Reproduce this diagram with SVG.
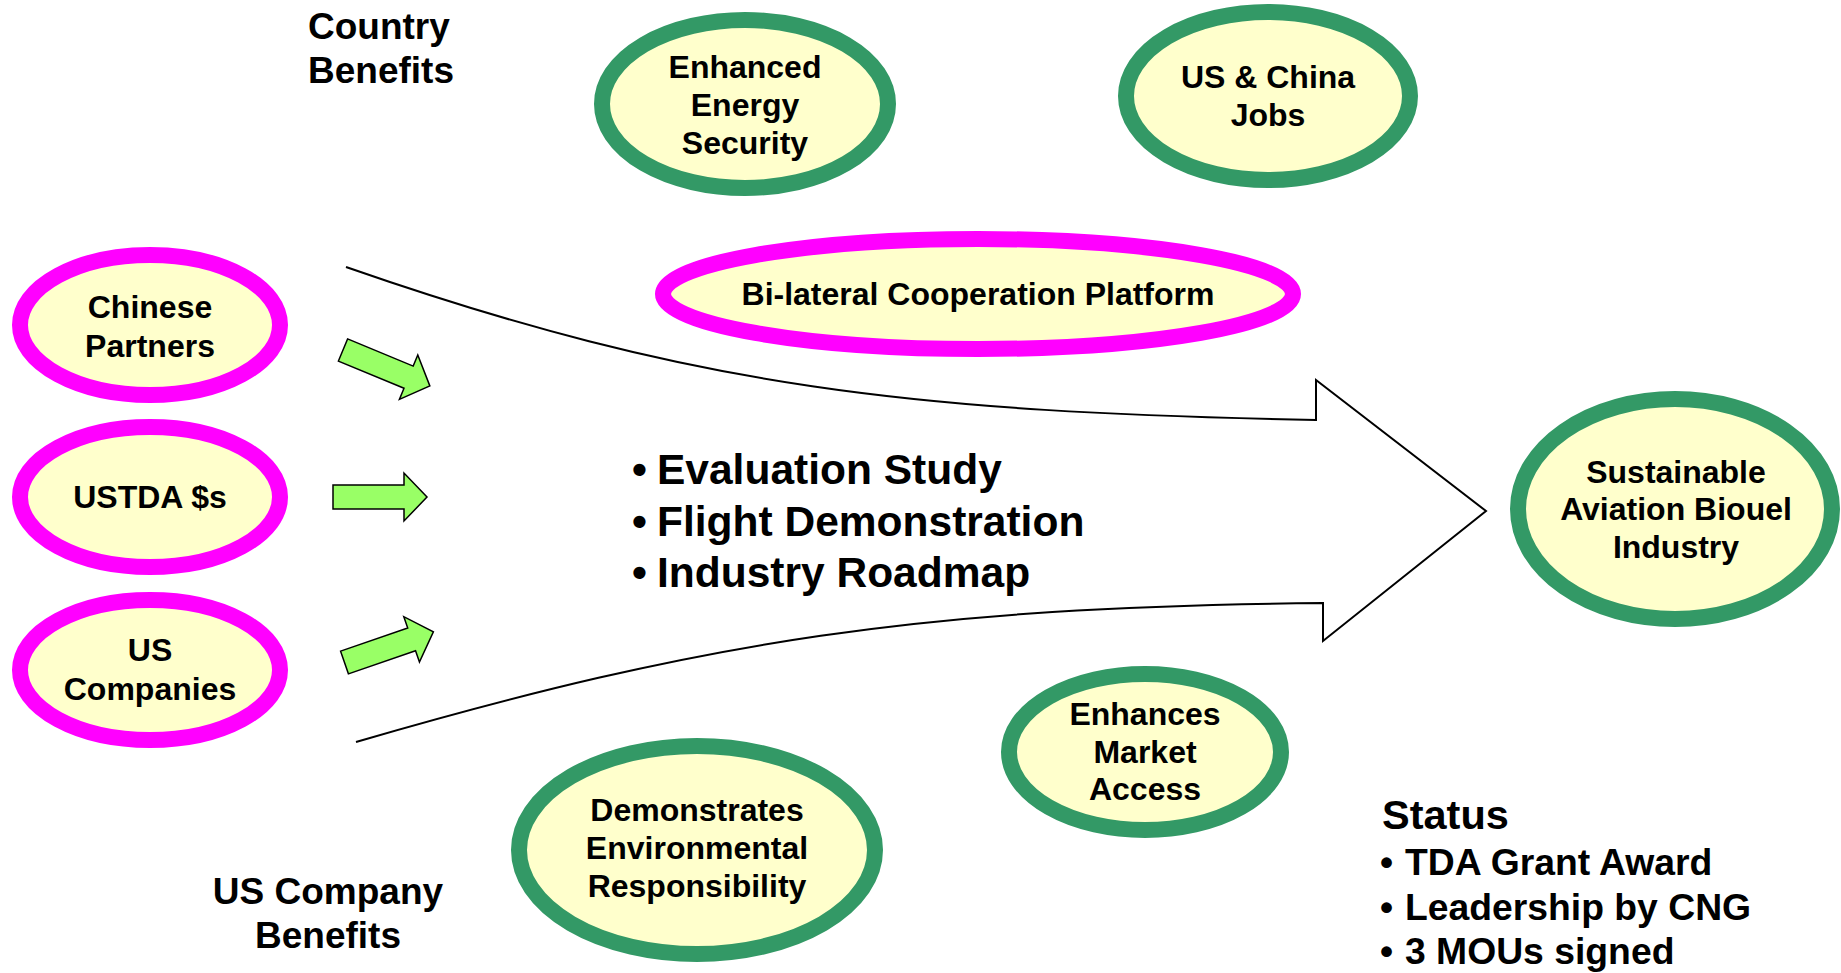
<svg xmlns="http://www.w3.org/2000/svg" width="1841" height="973" viewBox="0 0 1841 973">
<style>
  .bg{fill:#ffffff}
  .g{fill:#FFFFCC;stroke:#339966;stroke-width:16}
  .p{fill:#FFFFCC;stroke:#FF00FF;stroke-width:16}
  text{font-family:"Liberation Sans",Arial,sans-serif;font-weight:bold;fill:#000}
  .n{font-size:32px;text-anchor:middle}
  .h{font-size:37px}
  .b{font-size:42.5px}
  .s{font-size:37.3px}
  .ga{fill:#99FF66;stroke:#000;stroke-width:1.5;stroke-linejoin:miter}
  .big{fill:none;stroke:#000;stroke-width:2;stroke-linejoin:miter}
</style>
<defs>
  <path id="garrow" d="M0,-12 L71,-12 L71,-24 L94,0 L71,24 L71,12 L0,12 Z"/>
</defs>
<rect class="bg" x="0" y="0" width="1841" height="973"/>

<g id="connectors">
  <path class="big" d="M346,267 C696,389 916,412 1316,420 L1316,380 L1486,511 L1323,641 L1323,603 C923,607 706,640 356,742"/>
  <use href="#garrow" class="ga" transform="translate(343,350) rotate(22.5)"/>
  <use href="#garrow" class="ga" transform="translate(333,497)"/>
  <use href="#garrow" class="ga" transform="translate(344.5,662.5) rotate(-19)"/>
</g>

<g id="country-benefits">
  <text class="h" x="308" y="39">Country</text>
  <text class="h" x="308" y="83">Benefits</text>
</g>

<g id="energy-security">
  <ellipse class="g" cx="745" cy="104" rx="143" ry="84"/>
  <text class="n" x="745" y="78">Enhanced</text>
  <text class="n" x="745" y="116">Energy</text>
  <text class="n" x="745" y="154">Security</text>
</g>

<g id="jobs">
  <ellipse class="g" cx="1268" cy="96" rx="142" ry="84"/>
  <text class="n" x="1268" y="88">US &amp; China</text>
  <text class="n" x="1268" y="126">Jobs</text>
</g>

<g id="bilateral">
  <ellipse class="p" cx="978" cy="294" rx="315" ry="55"/>
  <text class="n" x="978" y="305">Bi-lateral Cooperation Platform</text>
</g>

<g id="chinese-partners">
  <ellipse class="p" cx="150" cy="325" rx="130" ry="70"/>
  <text class="n" x="150" y="318">Chinese</text>
  <text class="n" x="150" y="357">Partners</text>
</g>

<g id="ustda">
  <ellipse class="p" cx="150" cy="497" rx="130" ry="70"/>
  <text class="n" x="150" y="508">USTDA $s</text>
</g>

<g id="us-companies">
  <ellipse class="p" cx="150" cy="670" rx="130" ry="70"/>
  <text class="n" x="150" y="661">US</text>
  <text class="n" x="150" y="700">Companies</text>
</g>

<g id="activities">
  <text class="b" x="632" y="484">•</text>
  <text class="b" x="657" y="484">Evaluation Study</text>
  <text class="b" x="632" y="536">•</text>
  <text class="b" x="657" y="536">Flight Demonstration</text>
  <text class="b" x="632" y="587">•</text>
  <text class="b" x="657" y="587">Industry Roadmap</text>
</g>

<g id="sustainable">
  <ellipse class="g" cx="1675" cy="509" rx="157" ry="110"/>
  <text class="n" x="1676" y="483">Sustainable</text>
  <text class="n" x="1676" y="520">Aviation Biouel</text>
  <text class="n" x="1676" y="558">Industry</text>
</g>

<g id="market-access">
  <ellipse class="g" cx="1145" cy="752" rx="136" ry="78"/>
  <text class="n" x="1145" y="725">Enhances</text>
  <text class="n" x="1145" y="763">Market</text>
  <text class="n" x="1145" y="800">Access</text>
</g>

<g id="environmental">
  <ellipse class="g" cx="697" cy="850" rx="178" ry="104"/>
  <text class="n" x="697" y="821">Demonstrates</text>
  <text class="n" x="697" y="859">Environmental</text>
  <text class="n" x="697" y="897">Responsibility</text>
</g>

<g id="us-company-benefits">
  <text class="h" x="328" y="904" text-anchor="middle">US Company</text>
  <text class="h" x="328" y="948" text-anchor="middle">Benefits</text>
</g>

<g id="status">
  <text x="1382" y="829" style="font-size:41.5px">Status</text>
  <text class="s" x="1380" y="875">•</text>
  <text class="s" x="1405" y="875">TDA Grant Award</text>
  <text class="s" x="1380" y="920">•</text>
  <text class="s" x="1405" y="920">Leadership by CNG</text>
  <text class="s" x="1380" y="964">•</text>
  <text class="s" x="1405" y="964">3 MOUs signed</text>
</g>
</svg>
